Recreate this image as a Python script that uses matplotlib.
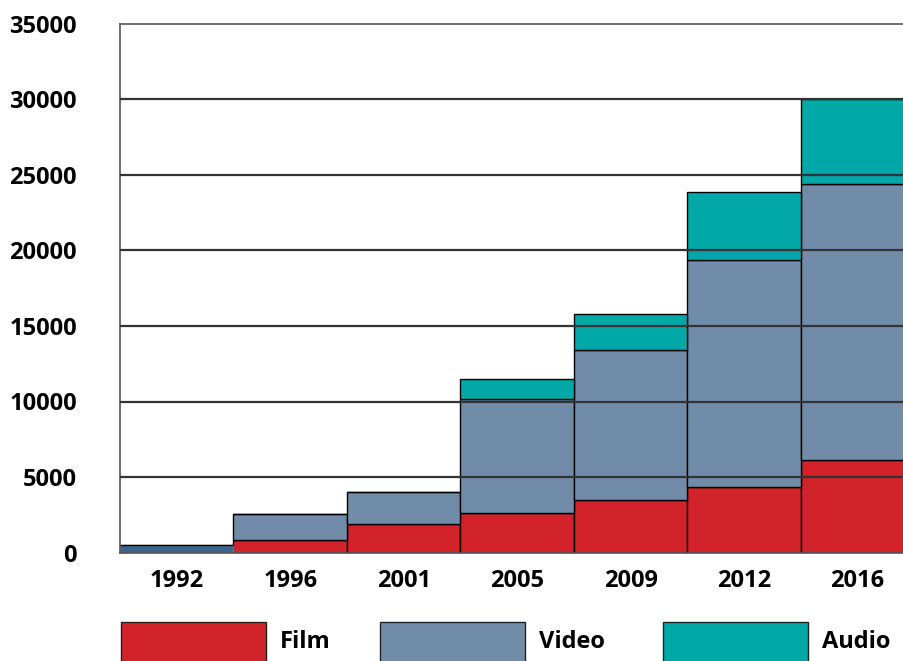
import matplotlib
matplotlib.use("Agg")
import matplotlib.pyplot as plt
from matplotlib.patches import Rectangle
import numpy as np

years = ["1992", "1996", "2001", "2005", "2009", "2012", "2016"]
film = [0, 800, 1900, 2600, 3500, 4350, 6150]
video = [500, 1750, 2100, 7550, 9900, 15050, 18250]
audio = [0, 0, 0, 1320, 2400, 4500, 5650]
series_names = ["Film", "Video", "Audio"]
colors = ["#d2232b", "#718ca9", "#00a8a8"]
yticks = [0, 5000, 10000, 15000, 20000, 25000, 30000, 35000]

plt.rcParams['font.family'] = ['Open Sans', 'DejaVu Sans']

fig = plt.figure(figsize=(9.04, 6.61), dpi=100)
W, H = 904, 661
ax = fig.add_axes([120 / W, 1 - 552.5 / H, (904 - 120) / W, (552.5 - 24) / H])

x = np.arange(len(years))
film_a = np.array(film)
video_a = np.array(video)
audio_a = np.array(audio)

ax.bar(x, film_a, width=1.0, color=colors[0], edgecolor="black", linewidth=1.0, zorder=2)
vcols = [colors[1]] * len(years)
vcols[0] = "#3a6591"
vedges = ["black"] * len(years)
vedges[0] = "#777777"
ax.bar(x, video_a, width=1.0, bottom=film_a, color=vcols, edgecolor=vedges, linewidth=1.0, zorder=2)
ax.bar(x, audio_a, width=1.0, bottom=film_a + video_a, color=colors[2], edgecolor="black", linewidth=1.0, zorder=2)

ax.set_xlim(-0.5, 6.41)
ax.set_ylim(0, 35000)
ax.set_yticks(yticks)
ax.set_yticklabels([str(v) for v in yticks])
ax.set_xticks(x)
ax.set_xticklabels(years)
ax.tick_params(axis="both", length=0, labelsize=17)
ax.tick_params(axis="y", pad=31)
ax.tick_params(axis="x", pad=12)
for lbl in ax.get_xticklabels() + ax.get_yticklabels():
    lbl.set_fontweight("bold")

for v in yticks[1:-1]:
    ax.axhline(v, color="#333333", linewidth=1.6, zorder=3)

ax.spines["right"].set_visible(False)
for s in ["left", "top", "bottom"]:
    ax.spines[s].set_color("#555555")
    ax.spines[s].set_linewidth(1.2)

# legend
leg_x = [121, 380, 663]
for name, col, lx in zip(series_names, colors, leg_x):
    fig.patches.append(Rectangle((lx / W, 1 - 668 / H), 145 / W, 46 / H,
                                 transform=fig.transFigure, facecolor=col,
                                 edgecolor="#222222", linewidth=1.0))
    fig.text((lx + 159) / W, 1 - 642 / H, name, fontsize=17, fontweight="bold",
             va="center", ha="left")

fig.savefig("out.png", dpi=100)
